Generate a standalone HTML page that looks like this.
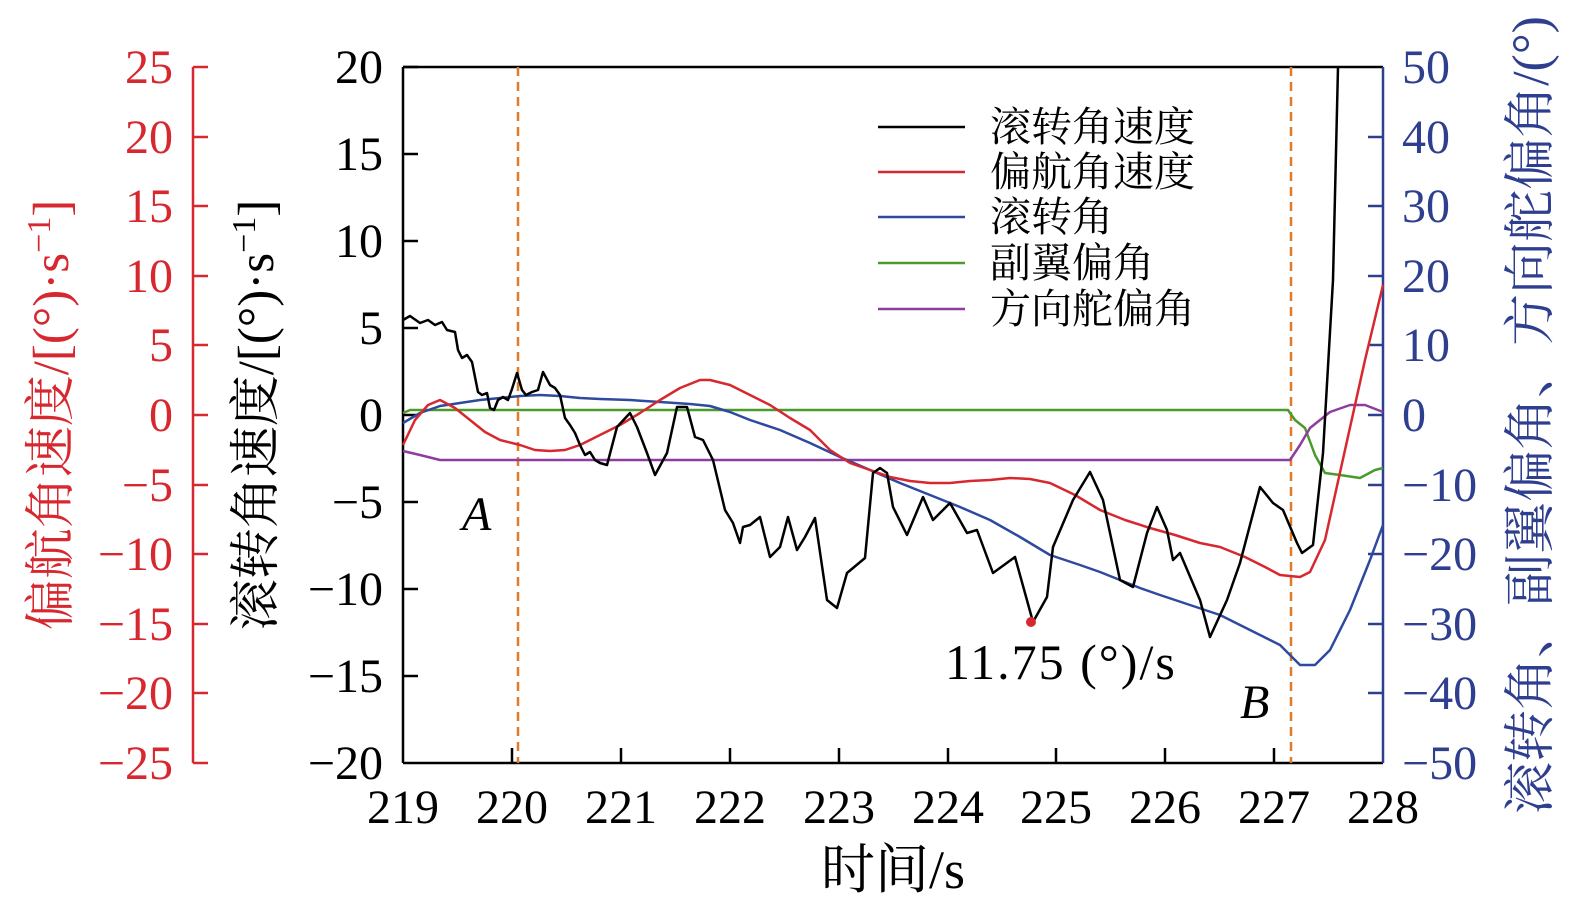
<!DOCTYPE html>
<html><head><meta charset="utf-8"><style>
html,body{margin:0;padding:0;background:#fff}
svg text{font-family:"Liberation Serif","Noto Serif CJK SC",serif}
</style></head><body>
<svg width="1575" height="915" viewBox="0 0 1575 915" xmlns="http://www.w3.org/2000/svg">
<rect width="1575" height="915" fill="#fff"/>
<line x1="403" y1="67" x2="1383" y2="67" stroke="#000" stroke-width="2.5"/>
<line x1="403" y1="763" x2="1383" y2="763" stroke="#000" stroke-width="2.5"/>
<line x1="403" y1="67" x2="403" y2="763" stroke="#000" stroke-width="2.5"/>
<line x1="1383" y1="67" x2="1383" y2="763" stroke="#2e3f8f" stroke-width="2.5"/>
<line x1="193" y1="67" x2="193" y2="763" stroke="#d7282f" stroke-width="2.5"/>
<g stroke="#000" stroke-width="2.5">
<line x1="403" x2="418" y1="67" y2="67"/><line x1="403" x2="418" y1="154" y2="154"/><line x1="403" x2="418" y1="241" y2="241"/><line x1="403" x2="418" y1="328" y2="328"/><line x1="403" x2="418" y1="415" y2="415"/><line x1="403" x2="418" y1="502" y2="502"/><line x1="403" x2="418" y1="589" y2="589"/><line x1="403" x2="418" y1="676" y2="676"/>
<line y1="763" y2="748" x1="512" x2="512"/><line y1="763" y2="748" x1="621" x2="621"/><line y1="763" y2="748" x1="730" x2="730"/><line y1="763" y2="748" x1="839" x2="839"/><line y1="763" y2="748" x1="948" x2="948"/><line y1="763" y2="748" x1="1056" x2="1056"/><line y1="763" y2="748" x1="1165" x2="1165"/><line y1="763" y2="748" x1="1274" x2="1274"/>
</g>
<g stroke="#d7282f" stroke-width="2.5">
<line x1="193" x2="208" y1="67" y2="67"/><line x1="193" x2="208" y1="137" y2="137"/><line x1="193" x2="208" y1="206" y2="206"/><line x1="193" x2="208" y1="276" y2="276"/><line x1="193" x2="208" y1="345" y2="345"/><line x1="193" x2="208" y1="415" y2="415"/><line x1="193" x2="208" y1="485" y2="485"/><line x1="193" x2="208" y1="554" y2="554"/><line x1="193" x2="208" y1="624" y2="624"/><line x1="193" x2="208" y1="693" y2="693"/><line x1="193" x2="208" y1="763" y2="763"/>
</g>
<g stroke="#2e3f8f" stroke-width="2.5">
<line x1="1368" x2="1383" y1="137" y2="137"/><line x1="1368" x2="1383" y1="206" y2="206"/><line x1="1368" x2="1383" y1="276" y2="276"/><line x1="1368" x2="1383" y1="345" y2="345"/><line x1="1368" x2="1383" y1="415" y2="415"/><line x1="1368" x2="1383" y1="485" y2="485"/><line x1="1368" x2="1383" y1="554" y2="554"/><line x1="1368" x2="1383" y1="624" y2="624"/><line x1="1368" x2="1383" y1="693" y2="693"/>
</g>
<g font-size="48" text-anchor="end" fill="#000">
<text x="383" y="83">20</text><text x="383" y="170">15</text><text x="383" y="257">10</text><text x="383" y="344">5</text><text x="383" y="431">0</text><text x="383" y="518">−5</text><text x="383" y="605">−10</text><text x="383" y="692">−15</text><text x="383" y="779">−20</text>
</g>
<g font-size="48" text-anchor="end" fill="#d7282f">
<text x="173" y="83">25</text><text x="173" y="153">20</text><text x="173" y="222">15</text><text x="173" y="292">10</text><text x="173" y="361">5</text><text x="173" y="431">0</text><text x="173" y="501">−5</text><text x="173" y="570">−10</text><text x="173" y="640">−15</text><text x="173" y="709">−20</text><text x="173" y="779">−25</text>
</g>
<g font-size="48" text-anchor="start" fill="#2e3f8f">
<text x="1402" y="83">50</text><text x="1402" y="153">40</text><text x="1402" y="222">30</text><text x="1402" y="292">20</text><text x="1402" y="361">10</text><text x="1402" y="431">0</text><text x="1402" y="501">−10</text><text x="1402" y="570">−20</text><text x="1402" y="640">−30</text><text x="1402" y="709">−40</text><text x="1402" y="779">−50</text>
</g>
<g font-size="48" text-anchor="middle" fill="#000">
<text x="403" y="823">219</text><text x="512" y="823">220</text><text x="621" y="823">221</text><text x="730" y="823">222</text><text x="839" y="823">223</text><text x="948" y="823">224</text><text x="1056" y="823">225</text><text x="1165" y="823">226</text><text x="1274" y="823">227</text><text x="1383" y="823">228</text>
<text x="893" y="888" font-size="54">时间/s</text>
</g>
<text transform="translate(68,415) rotate(-90)" text-anchor="middle" font-size="51" fill="#d7282f">偏航角速度/[(°)·s<tspan dy="-18" font-size="34">−1</tspan><tspan dy="18">]</tspan></text>
<text transform="translate(273,415) rotate(-90)" text-anchor="middle" font-size="51" fill="#000">滚转角速度/[(°)·s<tspan dy="-18" font-size="34">−1</tspan><tspan dy="18">]</tspan></text>
<text transform="translate(1548,415) rotate(-90)" text-anchor="middle" font-size="52" fill="#2e3f8f">滚转角、副翼偏角、方向舵偏角/(°)</text>
<line x1="518" y1="67" x2="518" y2="763" stroke="#e07b2a" stroke-width="2.5" stroke-dasharray="9,6"/>
<line x1="1291" y1="67" x2="1291" y2="763" stroke="#e07b2a" stroke-width="2.5" stroke-dasharray="9,6"/>
<g fill="none" stroke-width="2.5" stroke-linejoin="round">
<polyline stroke="#4a9a2c" points="403,413 410,410 1288,410 1295,420 1305,428 1315,455 1325,473 1340,475 1360,478 1375,470 1383,468"/>
<polyline stroke="#8e3d9e" points="403,451 420,455 440,460 1290,460 1300,445 1310,428 1330,412 1350,405 1365,405 1383,412"/>
<polyline stroke="#2e4a9e" points="403,423 420,413 440,406 460,403 480,400 500,398 520,396 540,395 560,396 580,398 600,399 630,400 660,402 690,404 710,406 730,412 750,420 780,430 810,443 840,457 870,470 900,483 930,495 960,507 990,520 1020,537 1050,555 1080,565 1100,572 1120,580 1140,588 1160,595 1190,605 1220,615 1250,630 1280,645 1300,665 1315,665 1330,650 1350,610 1370,560 1383,525"/>
<polyline stroke="#d7282f" points="403,445 415,420 428,405 440,400 455,408 470,420 485,432 500,440 520,445 535,450 550,451 565,450 580,445 600,435 620,425 640,413 660,400 680,388 700,380 710,380 730,385 750,395 770,405 790,418 810,430 830,450 850,463 870,470 890,477 910,481 930,483 950,483 970,481 990,480 1010,478 1030,479 1050,483 1075,495 1100,510 1125,520 1150,528 1175,535 1200,543 1220,547 1245,557 1265,567 1280,575 1300,577 1310,572 1325,540 1345,450 1365,360 1383,285"/>
<polyline stroke="#000" points="403,320 410,316 420,323 428,320 435,325 442,322 447,330 455,332 458,350 462,358 467,355 472,362 478,392 482,395 487,393 490,408 494,410 498,400 503,397 508,400 512,389 517,373 522,390 526,395 532,392 538,390 543,372 550,385 555,388 560,395 565,418 570,425 575,433 580,445 585,455 590,452 595,460 600,463 607,465 617,427 630,413 637,427 647,453 655,475 667,453 677,407 687,407 695,437 703,440 713,460 725,510 733,523 740,543 743,527 750,525 760,517 770,557 780,547 788,517 797,550 805,537 815,518 827,600 837,608 847,573 865,558 873,473 880,468 887,473 893,507 907,535 923,497 933,520 950,503 967,533 977,530 993,573 1015,557 1033,622 1047,597 1053,547 1073,500 1090,472 1103,500 1120,580 1133,587 1147,533 1157,507 1167,530 1173,560 1180,553 1200,600 1210,637 1227,600 1240,563 1260,487 1273,503 1283,510 1297,543 1302,553 1313,545 1323,453 1333,280 1338,67"/>
</g>
<circle cx="1031" cy="622" r="5" fill="#d7282f"/>
<text x="945" y="679" font-size="50" letter-spacing="2" fill="#000">11.75 (°)/s</text>
<text x="462" y="530" font-size="48" font-style="italic" fill="#000">A</text>
<text x="1240" y="718" font-size="48" font-style="italic" fill="#000">B</text>
<g stroke-width="2.5">
<line x1="878" x2="965" y1="127" y2="127" stroke="#000"/>
<line x1="878" x2="965" y1="172" y2="172" stroke="#d7282f"/>
<line x1="878" x2="965" y1="217" y2="217" stroke="#2e4a9e"/>
<line x1="878" x2="965" y1="263" y2="263" stroke="#4a9a2c"/>
<line x1="878" x2="965" y1="309" y2="309" stroke="#8e3d9e"/>
</g>
<g font-size="41" fill="#000">
<text x="990" y="141">滚转角速度</text><text x="990" y="186">偏航角速度</text><text x="990" y="231">滚转角</text><text x="990" y="277">副翼偏角</text><text x="990" y="323">方向舵偏角</text>
</g>
</svg>
</body></html>
